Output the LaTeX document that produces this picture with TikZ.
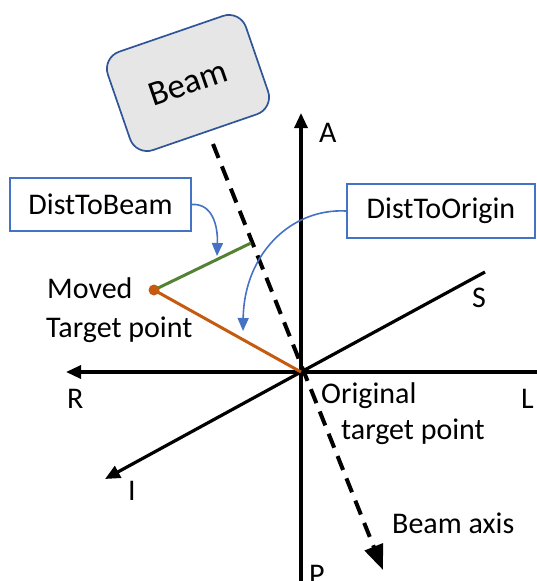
\documentclass[tikz,border=0pt]{standalone}
\usepackage{fontspec}
\setmainfont{Carlito}
\usetikzlibrary{arrows.meta}
\definecolor{callblue}{HTML}{4472C4}
\definecolor{boxblue}{HTML}{2F5597}
\definecolor{beamfill}{HTML}{E7E6E6}
\definecolor{distgreen}{HTML}{548235}
\definecolor{distorange}{HTML}{C55A11}
\tikzset{
  axisline/.style={line width=3.2pt, black},
  axisarrow/.style={axisline, -{Triangle[length=15pt,width=13pt]}},
  beamaxis/.style={line width=4pt, black, dash pattern=on 15pt off 9pt, -{Triangle[length=25pt,width=19pt]}},
  callout/.style={draw=callblue, line width=1.4pt, fill=white, inner sep=0pt, font=\fontsize{30}{32}\selectfont},
  callarrow/.style={draw=callblue, line width=1.6pt, -{Triangle[length=13pt,width=11pt]}},
  lbl/.style={font=\fontsize{30}{32}\selectfont, inner sep=0pt},
}
\begin{document}
\begin{tikzpicture}[x=1pt,y=-1pt]
\useasboundingbox (0,0) rectangle (536,581);
% coordinates
\coordinate (O) at (301,372);
\coordinate (Atop) at (301,113);
\coordinate (Pbot) at (301,585);
\coordinate (Rend) at (66,372);
\coordinate (Lend) at (540,372);
\coordinate (Send) at (485,272);
\coordinate (Iend) at (105,479);
\coordinate (BeamStart) at (213,144);
\coordinate (BeamEnd) at (383,570);
\coordinate (MT) at (154,290);
\coordinate (GE) at (251,243);
% beam box
\node[draw=boxblue, line width=1.7pt, fill=beamfill, rounded corners=18pt,
      minimum width=146pt, minimum height=104pt, rotate=19,
      font=\fontsize{35}{37}\selectfont] (beam) at (188,83) {Beam};
% axes
\draw[axisarrow] (Pbot) -- (Atop);
\draw[axisarrow] (Lend) -- (Rend);
\draw[axisline] (O) -- (Send);
\draw[axisarrow] (O) -- (Iend);
% beam axis
\draw[beamaxis] (BeamStart) -- (BeamEnd);
% distances
\draw[distgreen, line width=3pt] (MT) -- (GE);
\draw[distorange, line width=3pt] (MT) -- (O);
\fill[distorange] (MT) circle (5.5pt);
% callouts
\node[callout, minimum width=181pt, minimum height=53pt] (dtb) at (100.5,204.5) {DistToBeam};
\node[callout, minimum width=188pt, minimum height=54pt] (dto) at (441,211) {DistToOrigin};
\coordinate (dtbTip) at (217,256);
\coordinate (dtoTip) at (243,331);
\draw[callarrow] (dtb.east) .. controls (212,203) and (218,225) .. (dtbTip);
\draw[callarrow] (dto.west) .. controls (290,208) and (244,255) .. (dtoTip);
% labels
\node[lbl, anchor=base west] (lA) at (319,142) {A};
\node[lbl, anchor=base west] (lS) at (472,307) {S};
\node[lbl, anchor=base west] (lR) at (67,408) {R};
\node[lbl, anchor=base west] (lL) at (521,408) {L};
\node[lbl, anchor=base west] (lI) at (128,500) {I};
\node[lbl, anchor=base west] (lP) at (309,584) {P};
\node[lbl, anchor=base west] (lmoved) at (47,298) {Moved};
\node[lbl, anchor=base west] (ltarget) at (46,337) {Target point};
\node[lbl, anchor=base west] (lorig) at (321,403) {Original};
\node[lbl, anchor=base west] (lotarget) at (341,439) {target point};
\node[lbl, anchor=base west] (lbeamaxis) at (392,533) {Beam axis};
\end{tikzpicture}
\end{document}
